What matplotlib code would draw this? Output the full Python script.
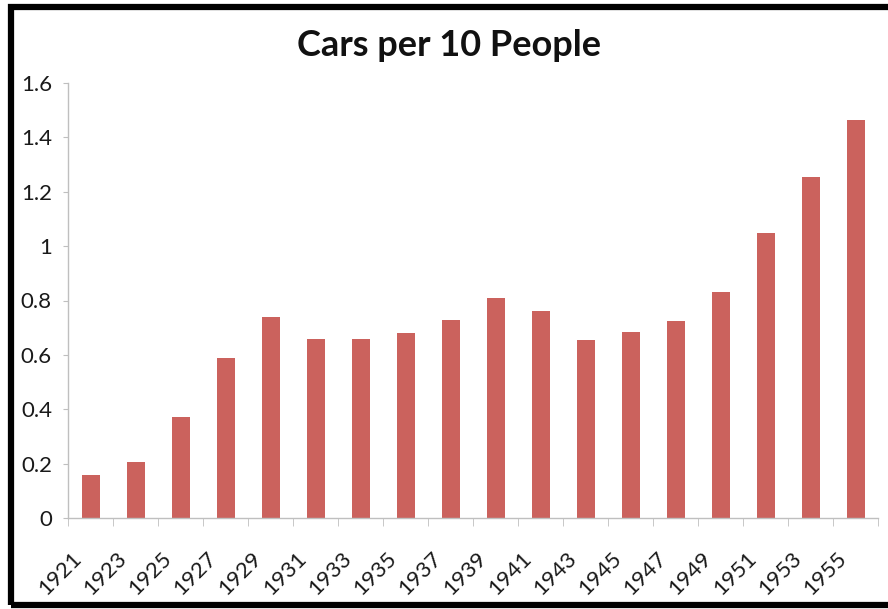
import numpy as np
import matplotlib
matplotlib.use('Agg')
import matplotlib.pyplot as plt
from matplotlib.patches import Rectangle
from matplotlib.transforms import ScaledTranslation

# data
years = ['1921', '1923', '1925', '1927', '1929', '1931', '1933', '1935', '1937',
         '1939', '1941', '1943', '1945', '1947', '1949', '1951', '1953', '1955']
cars_per_10 = [0.16, 0.205, 0.37, 0.59, 0.74, 0.66, 0.66, 0.68, 0.73,
               0.81, 0.76, 0.655, 0.685, 0.725, 0.83, 1.05, 1.255, 1.465]
y_ticks = [0, 0.2, 0.4, 0.6, 0.8, 1, 1.2, 1.4, 1.6]
y_tick_labels = ['0', '0.2', '0.4', '0.6', '0.8', '1', '1.2', '1.4', '1.6']

plt.rcParams['font.family'] = ['Lato', 'DejaVu Sans']

fig = plt.figure(figsize=(8.88, 6.09), dpi=100)
ax = fig.add_axes([68 / 888, 1 - 518 / 609, 810 / 888, 435 / 609])

x = np.arange(len(years))
ax.bar(x, cars_per_10, width=0.4, color='#CB625D', zorder=2)

ax.set_xlim(-0.5, len(years) - 0.5)
ax.set_ylim(0, 1.6)
ax.set_yticks(y_ticks)
ax.set_yticklabels(y_tick_labels)
ax.set_xticks(np.arange(-0.5, len(years)), minor=True)
ax.set_xticks(x)
ax.set_xticklabels([])

# category labels drawn as text so they can sit like Excel's rotated labels
offset = ScaledTranslation(-19 / 100, -30 / 100, fig.dpi_scale_trans)
for xi, yr in zip(x, years):
    ax.text(xi, 0, yr, rotation=45, ha='right', va='top', rotation_mode='anchor',
            fontsize=16, color='#1a1a1a', transform=ax.get_xaxis_transform() + offset)

ax.tick_params(axis='x', which='major', length=0)
ax.tick_params(axis='x', which='minor', length=6, color='#BFBFBF')
ax.tick_params(axis='y', length=3.6, color='#BFBFBF', labelsize=16, labelcolor='#1a1a1a', pad=8)

for side in ['top', 'right']:
    ax.spines[side].set_visible(False)
for side in ['left', 'bottom']:
    ax.spines[side].set_color('#BFBFBF')
    ax.spines[side].set_linewidth(1)

fig.text(0.506, 1 - 45 / 609, 'Cars per 10 People', ha='center', va='center',
         fontsize=26, fontweight='bold', color='#111111')

# thick black frame (right edge is cut off in the reference)
frame = Rectangle((11 / 888, 4.5 / 609), 1.0, 1 - 11.5 / 609, transform=fig.transFigure,
                  fill=False, edgecolor='black', linewidth=4.5, zorder=10)
fig.patches.append(frame)

fig.savefig('out.png', dpi=100)
